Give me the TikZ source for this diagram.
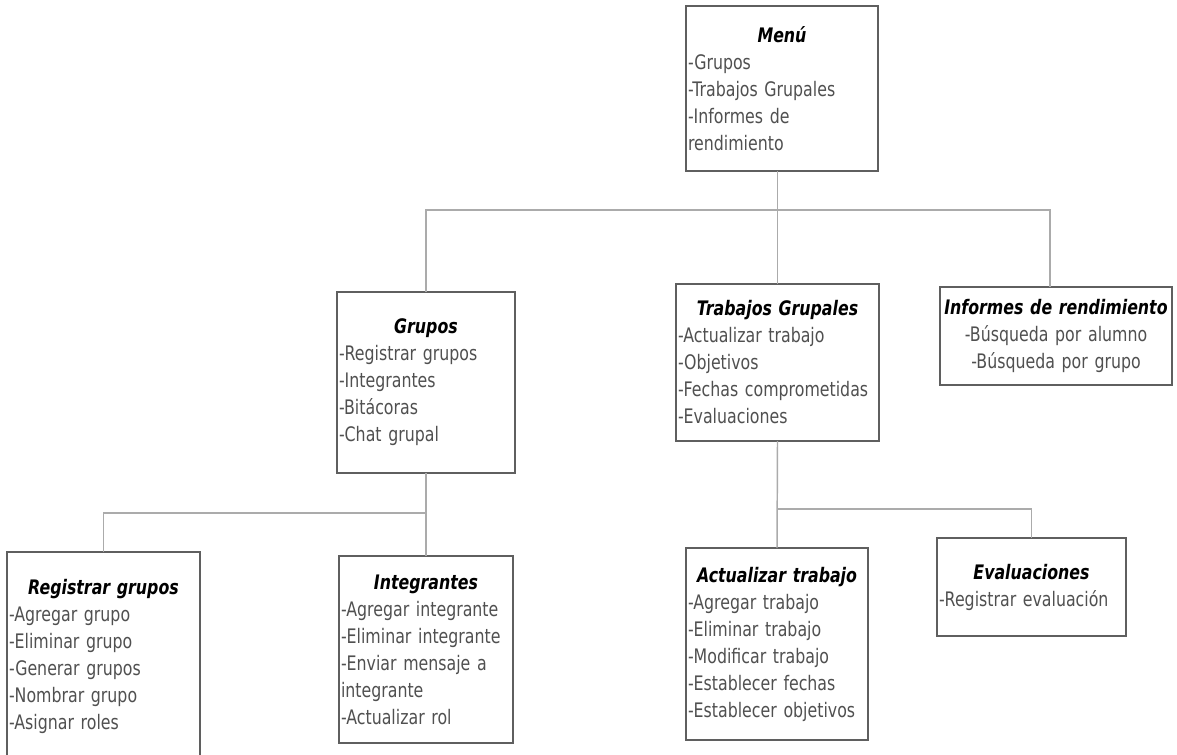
\documentclass[tikz,border=0pt]{standalone}
\usepackage{fontspec}
\setmainfont{DejaVu Sans}[FakeStretch=0.79]
\definecolor{boxgray}{HTML}{5F5F5F}
\definecolor{conngray}{HTML}{ABABAB}
\definecolor{txtgray}{HTML}{505050}
\newcommand\boxtitle[1]{\makebox[\hsize]{\color{black}\bfseries\itshape #1}}
\begin{document}
\begin{tikzpicture}[x=0.75pt,y=-0.75pt,
  box/.style 2 args={draw=boxgray, line width=1.1pt, minimum width=#1, minimum height=#2,
    inner xsep=1.5pt, inner ysep=0pt, outer sep=0pt, align=left, text=txtgray,
    font=\fontsize{15}{20.25}\selectfont},
  conn/.style={draw=conngray, line width=1.1pt}]
\useasboundingbox[fill=white] (0,0) rectangle (1177,755);

\node (menu) [box={144pt}{123.75pt}, text width=141pt] at (782,88.5)
  {\boxtitle{Menú}\\-Grupos\\-Trabajos Grupales\\-Informes de\\rendimiento};
\node (grupos) [box={133.5pt}{135.75pt}, text width=130.5pt] at (426,382.5)
  {\boxtitle{Grupos}\\-Registrar grupos\\-Integrantes\\-Bitácoras\\-Chat grupal};
\node (trabajos) [box={152.25pt}{117.75pt}, text width=149.25pt] at (777.5,362.5)
  {\boxtitle{Trabajos Grupales}\\-Actualizar trabajo\\-Objetivos\\-Fechas comprometidas\\-Evaluaciones};
\node (informes) [box={174pt}{73.5pt}, text width=171pt, align=center] at (1056,336)
  {{\color{black}\bfseries\itshape Informes de rendimiento}\\-Búsqueda por alumno\\-Búsqueda por grupo};
\node (registrar) [box={144.75pt}{156.75pt}, text width=141.75pt] at (103.5,656.5)
  {\boxtitle{Registrar grupos}\\-Agregar grupo\\-Eliminar grupo\\-Generar grupos\\-Nombrar grupo\\-Asignar roles};
\node (integrantes) [box={130.5pt}{140.25pt}, text width=127.5pt] at (426,649.5)
  {\boxtitle{Integrantes}\\-Agregar integrante\\-Eliminar integrante\\-Enviar mensaje a\\integrante\\-Actualizar rol};
\node (actualizar) [box={136.5pt}{144pt}, text width=133.5pt] at (777,644)
  {\boxtitle{Actualizar trabajo}\\-Agregar trabajo\\-Eliminar trabajo\\-Modificar trabajo\\-Establecer fechas\\-Establecer objetivos};
\node (evaluaciones) [box={141.75pt}{73.5pt}, text width=138.75pt] at (1031.5,587)
  {\boxtitle{Evaluaciones}\\-Registrar evaluación};

\coordinate (bus1) at (0,210);
\coordinate (bus2) at (0,513);
\coordinate (bus3) at (0,509);
\coordinate (infx) at ([xshift=-4.5pt]informes.north);

\draw[conn] (menu.south -| trabajos.north) -- (trabajos.north);
\draw[conn] (grupos.north) -- (grupos.north |- bus1) -- (bus1 -| infx) -- (infx);
\draw[conn] (grupos.south) -- (integrantes.north);
\draw[conn] (registrar.north) -- (registrar.north |- bus2) -- (bus2 -| grupos.south);
\draw[conn] (trabajos.south) -- (actualizar.north);
\draw[conn] (evaluaciones.north) -- (evaluaciones.north |- bus3) -- (bus3 -| trabajos.south);
\end{tikzpicture}
\end{document}
